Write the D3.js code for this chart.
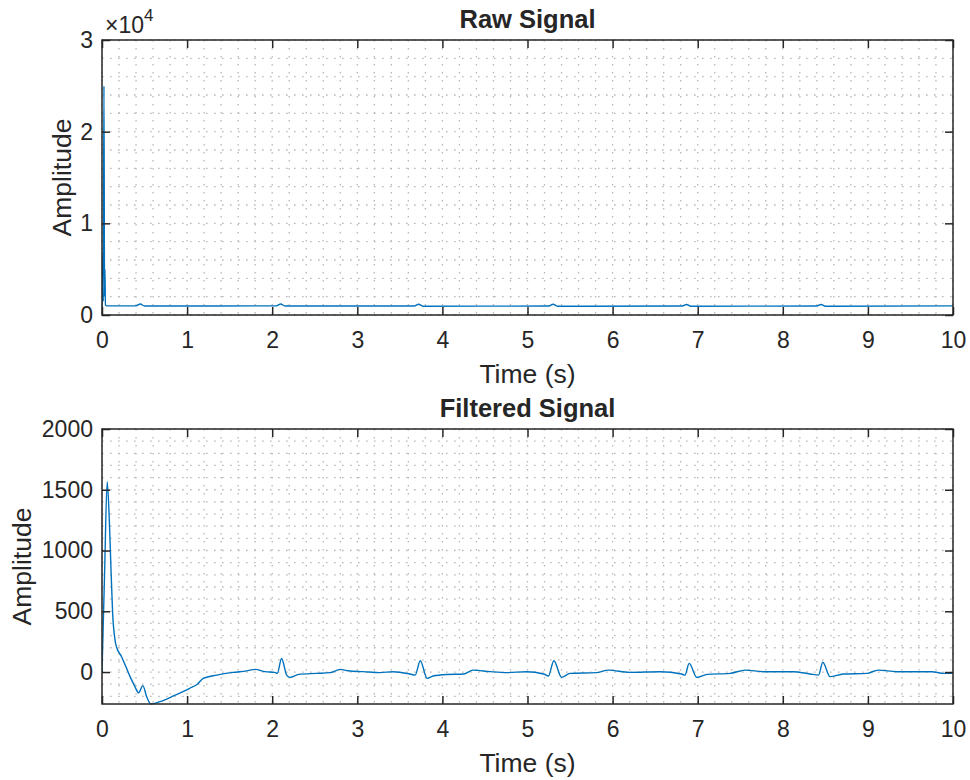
<!DOCTYPE html>
<html><head><meta charset="utf-8">
<script src="https://cdn.jsdelivr.net/npm/d3@7"></script>
<style>
body{margin:0;background:#fff}
text{font-family:"Liberation Sans",Arial,Helvetica,sans-serif;fill:#262626}
</style>
</head><body>
<svg id="c" width="970" height="780"></svg>
<script>
// ---- data ----
const rawTime = [0, 0.01, 0.015, 0.023, 0.03, 0.035, 0.04, 0.06, 0.40, 0.45, 0.50, 2.05, 2.10, 2.15, 3.67, 3.72, 3.77, 5.25, 5.30, 5.35, 6.82, 6.87, 6.92, 8.40, 8.45, 8.50, 10];
const rawAmp  = [300, 6800, 1500, 25000, 2000, 5000, 1100, 1000, 1000, 1200, 980, 1000, 1200, 980, 980, 1180, 960, 980, 1180, 960, 980, 1150, 960, 980, 1150, 960, 1000];

const filtTime = [0, 0.03, 0.061, 0.086, 0.106, 0.125, 0.153, 0.17, 0.23, 0.28, 0.33, 0.38, 0.43, 0.48, 0.525, 0.575, 0.68, 0.84, 1.03, 1.12, 1.19, 1.35, 1.54, 1.70, 1.80, 1.915, 2.03, 2.06, 2.11, 2.17, 2.21, 2.31, 2.52, 2.68, 2.80, 2.89, 3.07, 3.27, 3.42, 3.62, 3.68, 3.74, 3.82, 3.89, 4.05, 4.25, 4.36, 4.56, 4.76, 4.99, 5.19, 5.245, 5.31, 5.40, 5.50, 5.81, 5.95, 6.20, 6.56, 6.81, 6.85, 6.90, 6.99, 7.11, 7.38, 7.56, 7.77, 8.12, 8.32, 8.42, 8.47, 8.555, 8.71, 8.99, 9.12, 9.34, 9.75, 9.89, 10];
const filtAmp  = [0, 800, 1566, 1251, 840, 483, 263, 208, 126, 45, -38, -110, -170, -112, -203, -263, -244, -197, -134, -100, -52, -25, -3, 10, 22, 3, -3, -10, 112, -25, -44, -19, -11, -5, 22, 11, 3, -5, 3, -16, -25, 93, -52, -33, -20, -16, 16, 3, -5, 3, -16, -33, 93, -44, -11, -5, 16, -3, 3, -16, -25, 71, -44, -19, -11, 16, 3, 3, -16, -25, 80, -38, -16, -11, 16, 3, 3, -11, -11];

const xTicks = [0, 1, 2, 3, 4, 5, 6, 7, 8, 9, 10];
const rawYTicks = [0, 10000, 20000, 30000];
const rawYTickLabels = ["0", "1", "2", "3"];
const filtYTicks = [0, 500, 1000, 1500, 2000];
const titles = ["Raw Signal", "Filtered Signal"];
const xLabel = "Time (s)";
const yLabel = "Amplitude";

// ---- drawing ----
const svg = d3.select("#c");
const L = 102, R = 953;
const axisColor = "#262626";
const lineColor = "#0072BD";

function panel(opt) {
  const g = svg.append("g");
  const x = d3.scaleLinear().domain([0, 10]).range([L, R]);
  const y = d3.scaleLinear().domain(opt.yDomain).range([opt.bottom, opt.top]);

  // grid (dotted, minor + major)
  const xMinor = d3.range(0, 51).map(i => i / 5);
  const yMinor = d3.range(Math.ceil(opt.yDomain[0] / opt.yMinorStep), Math.floor(opt.yDomain[1] / opt.yMinorStep) + 1).map(i => i * opt.yMinorStep);
  const grid = g.append("g").attr("stroke", "#b8b8b8").attr("stroke-width", 1.3).attr("stroke-dasharray", "1.6,6.4");
  grid.selectAll("line.gx").data(xMinor).join("line")
    .attr("x1", d => x(d)).attr("x2", d => x(d)).attr("y1", opt.top).attr("y2", opt.bottom);
  grid.selectAll("line.gy").data(yMinor).join("line")
    .attr("y1", d => y(d)).attr("y2", d => y(d)).attr("x1", L).attr("x2", R);

  // line
  const clipId = "clip" + opt.id;
  svg.append("clipPath").attr("id", clipId).append("rect")
    .attr("x", L).attr("y", opt.top - 1).attr("width", R - L).attr("height", opt.bottom - opt.top + 2);
  const pts = opt.t.map((t, i) => [t, opt.v[i]]);
  g.append("path").datum(pts)
    .attr("clip-path", `url(#${clipId})`)
    .attr("fill", "none").attr("stroke", lineColor).attr("stroke-width", 1.4)
    .attr("stroke-linejoin", "round")
    .attr("d", d3.line().x(d => x(d[0])).y(d => y(d[1])).curve(d3.curveMonotoneX));

  // axes
  const fs = "23px";
  const ax = g.append("g").attr("transform", `translate(0,${opt.bottom})`)
    .call(d3.axisBottom(x).tickValues(xTicks).tickFormat(d3.format("d")).tickSizeInner(-8).tickSizeOuter(0).tickPadding(16.5));
  const at = g.append("g").attr("transform", `translate(0,${opt.top})`)
    .call(d3.axisTop(x).tickValues(xTicks).tickFormat("").tickSizeInner(-8).tickSizeOuter(0));
  const al = g.append("g").attr("transform", `translate(${L},0)`)
    .call(d3.axisLeft(y).tickValues(opt.yTicks).tickFormat((d, i) => opt.yLabels ? opt.yLabels[i] : d3.format("d")(d)).tickSizeInner(-8).tickSizeOuter(0).tickPadding(9));
  const ar = g.append("g").attr("transform", `translate(${R},0)`)
    .call(d3.axisRight(y).tickValues(opt.yTicks).tickFormat("").tickSizeInner(-8).tickSizeOuter(0));
  [ax, at, al, ar].forEach(a => {
    a.select(".domain").remove();
    a.selectAll(".tick line").attr("stroke", axisColor).attr("stroke-width", 1.5);
    a.selectAll(".tick text").attr("fill", axisColor).style("font-size", fs)
      .style("font-family", '"Liberation Sans",Arial,Helvetica,sans-serif');
  });
  g.append("rect").attr("x", L).attr("y", opt.top).attr("width", R - L).attr("height", opt.bottom - opt.top)
    .attr("fill", "none").attr("stroke", axisColor).attr("stroke-width", 1.5);

  // title and labels
  g.append("text").attr("x", (L + R) / 2).attr("y", opt.top - 12).attr("text-anchor", "middle")
    .style("font-size", "25.5px").style("font-weight", "bold").attr("fill", "#000").text(opt.title);
  g.append("text").attr("x", (L + R) / 2).attr("y", opt.bottom + 68).attr("text-anchor", "middle")
    .style("font-size", "26.5px").text(xLabel);
  g.append("text").attr("transform", `translate(${opt.yLabelX},${(opt.top + opt.bottom) / 2}) rotate(-90)`)
    .attr("text-anchor", "middle").style("font-size", "26.5px").text(yLabel);

  if (opt.exponent) {
    const e = g.append("text").attr("x", L + 3).attr("y", opt.top - 7).style("font-size", "23px");
    e.append("tspan").text("\u00d710");
    e.append("tspan").attr("dy", -12).style("font-size", "17px").text(opt.exponent);
  }
}

panel({id: 1, t: rawTime, v: rawAmp, top: 40, bottom: 315, yDomain: [0, 30000], yMinorStep: 2000,
  yTicks: rawYTicks, yLabels: rawYTickLabels, title: titles[0], yLabelX: 71, exponent: "4"});
panel({id: 2, t: filtTime, v: filtAmp, top: 429, bottom: 704, yDomain: [-263, 2000], yMinorStep: 100,
  yTicks: filtYTicks, yLabels: null, title: titles[1], yLabelX: 31});
</script>
</body></html>
